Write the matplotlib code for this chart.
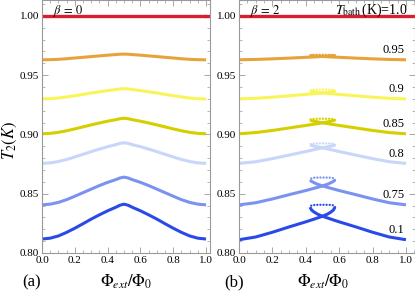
import numpy as np
import matplotlib
matplotlib.use('Agg')
import matplotlib.pyplot as plt
from matplotlib.ticker import MultipleLocator

plt.rcParams['font.family'] = ['Liberation Serif', 'DejaVu Serif']
plt.rcParams['mathtext.fontset'] = 'stix'

# T_bath values (labels) and colours
t_bath = [1.0, 0.95, 0.9, 0.85, 0.8, 0.75, 0.1]
t_bath_labels = ['1.0', '0.95', '0.9', '0.85', '0.8', '0.75', '0.1']
colors = ['#d81e30', '#e8a23a', '#f8f55a', '#d6cf00', '#c8d6fa', '#7b93f0', '#2a4ae8']

# beta = 0 : symmetric curves, half profile for phi in [0, 0.5]
phi_a = [0.0, 0.05, 0.1, 0.15, 0.2, 0.25, 0.3, 0.35, 0.4, 0.45, 0.475, 0.5]
a_100 = [1.0] * 12
a_095 = [0.9630, 0.9631, 0.9634, 0.9639, 0.9645, 0.9651, 0.9657, 0.9663, 0.9669, 0.9674, 0.9677, 0.9678]
a_090 = [0.9300, 0.9302, 0.9308, 0.9317, 0.9327, 0.9338, 0.9350, 0.9360, 0.9370, 0.9379, 0.9384, 0.9387]
a_085 = [0.9006, 0.9009, 0.9018, 0.9031, 0.9047, 0.9064, 0.9081, 0.9097, 0.9112, 0.9125, 0.9133, 0.9137]
a_080 = [0.8756, 0.8760, 0.8772, 0.8789, 0.8810, 0.8833, 0.8855, 0.8877, 0.8897, 0.8914, 0.8925, 0.8930]
a_075 = [0.8406, 0.8412, 0.8427, 0.8450, 0.8479, 0.8509, 0.8539, 0.8569, 0.8596, 0.8619, 0.8633, 0.8640]
a_010 = [0.8118, 0.8125, 0.8144, 0.8174, 0.8209, 0.8247, 0.8286, 0.8322, 0.8356, 0.8386, 0.8403, 0.8412]

# beta = 2 : stable branch from phi=0 up to the fold, then dotted unstable arc
phi_b = [0.0, 0.1, 0.2, 0.3, 0.4, 0.45, 0.5, 0.53, 0.55, 0.565, 0.575]
b_100 = [1.0] * 11
b_095 = [0.9630, 0.9633, 0.9638, 0.9644, 0.9651, 0.9654, 0.9658, 0.9661, 0.9663, 0.9665, 0.9667]
b_090 = [0.9300, 0.9305, 0.9315, 0.9326, 0.9338, 0.9344, 0.9350, 0.9355, 0.9359, 0.9363, 0.9367]
b_085 = [0.9006, 0.9016, 0.9034, 0.9055, 0.9076, 0.9087, 0.9098, 0.9106, 0.9112, 0.9117, 0.9122]
b_080 = [0.8756, 0.8770, 0.8796, 0.8826, 0.8856, 0.8872, 0.8888, 0.8896, 0.8902, 0.8907, 0.8912]
b_075 = [0.8406, 0.8424, 0.8456, 0.8492, 0.8527, 0.8546, 0.8566, 0.8580, 0.8593, 0.8604, 0.8616]
b_010 = [0.8112, 0.8135, 0.8175, 0.8220, 0.8263, 0.8286, 0.8310, 0.8328, 0.8345, 0.8362, 0.8387]

phi_d = [0.575, 0.57, 0.56, 0.54, 0.5, 0.46, 0.44, 0.43, 0.425]
d_095 = [0.9667, 0.9670, 0.9672, 0.9672, 0.9673, 0.9672, 0.9672, 0.9670, 0.9667]
d_090 = [0.9367, 0.9373, 0.9377, 0.9378, 0.9379, 0.9378, 0.9377, 0.9373, 0.9367]
d_085 = [0.9122, 0.9128, 0.9131, 0.9132, 0.9133, 0.9132, 0.9131, 0.9128, 0.9122]
d_080 = [0.8912, 0.8919, 0.8923, 0.8924, 0.8925, 0.8924, 0.8923, 0.8919, 0.8912]
d_075 = [0.8616, 0.8627, 0.8634, 0.8636, 0.8637, 0.8636, 0.8634, 0.8627, 0.8616]
d_010 = [0.8387, 0.8398, 0.8404, 0.8406, 0.8407, 0.8406, 0.8404, 0.8398, 0.8387]

curves_a = [a_100, a_095, a_090, a_085, a_080, a_075, a_010]
curves_b = [b_100, b_095, b_090, b_085, b_080, b_075, b_010]
curves_d = [None, d_095, d_090, d_085, d_080, d_075, d_010]

fig = plt.figure(figsize=(4.15, 2.91), dpi=100)
ax1 = fig.add_axes([42 / 415, 1 - 253 / 291, 168 / 415, 253 / 291])
ax2 = fig.add_axes([239 / 415, 1 - 253 / 291, 176 / 415, 253 / 291])

y_top = 1.0 + 16 / 59.5 * 0.05

for ax, xmax in [(ax1, 1.024), (ax2, 1.054)]:
    ax.set_xlim(0, xmax)
    ax.set_ylim(0.80, y_top)
    ax.xaxis.set_major_locator(MultipleLocator(0.2))
    ax.xaxis.set_minor_locator(MultipleLocator(0.05))
    ax.yaxis.set_major_locator(MultipleLocator(0.05))
    ax.yaxis.set_minor_locator(MultipleLocator(0.01))
    ax.set_xticks([0.0, 0.2, 0.4, 0.6, 0.8, 1.0])
    ax.set_xticklabels(['0.0', '0.2', '0.4', '0.6', '0.8', '1.0'])
    ax.set_yticks([0.80, 0.85, 0.90, 0.95, 1.00])
    ax.set_yticklabels(['0.80', '0.85', '0.90', '0.95', '1.00'])
    ax.tick_params(which='both', direction='in', top=True, right=True,
                   color='#999999', labelsize=8, pad=2)
    ax.tick_params(which='major', length=4, width=0.6)
    ax.tick_params(which='minor', length=2, width=0.5)
    for sp in ax.spines.values():
        sp.set_color('#999999')
        sp.set_linewidth(0.8)

# panel (a)
for i in range(len(t_bath)):
    half = np.array(curves_a[i])
    x = np.concatenate([phi_a, 1 - np.array(phi_a[-2::-1])])
    y = np.concatenate([half, half[-2::-1]])
    lw = 2.4 if i == 0 else 2.2
    ax1.plot(x, y, color=colors[i], lw=lw, solid_capstyle='butt')
ax1.plot([1.0, 1.024], [1.0, 1.0], color=colors[0], lw=2.4)

# panel (b)
for i in range(len(t_bath)):
    yb = np.array(curves_b[i])
    xb = np.array(phi_b)
    lw = 2.4 if i == 0 else 2.2
    if i == 0:
        ax2.plot([0, 1.054], [1.0, 1.0], color=colors[i], lw=lw)
        continue
    ax2.plot(xb, yb, color=colors[i], lw=lw, solid_capstyle='butt')
    ax2.plot(1 - xb, yb, color=colors[i], lw=lw, solid_capstyle='butt')
    ax2.plot(phi_d, curves_d[i], color=colors[i], lw=1.7,
             linestyle=(0, (0.01, 1.3)), dash_capstyle='round')

# annotations
ax1.text(0.067, 1.0018, r'$\beta\,=\,0$', fontsize=9, ha='left', va='baseline')
ax2.text(0.067, 1.0018, r'$\beta\,=\,2$', fontsize=9, ha='left', va='baseline')
ax2.text(1.01, 1.0018, r'$T_{\rm bath}\,$(K)=1.0', fontsize=10, ha='right', va='baseline')
for i in range(1, len(t_bath)):
    ax2.text(0.99, curves_b[i][0] + 0.003, t_bath_labels[i], fontsize=9,
             ha='right', va='bottom')

fig.text(10 / 415, 1 - 140 / 291, r'$T_2(K)$', rotation=90, fontsize=12,
         ha='center', va='center')
fig.text(126 / 415, 1 - 282 / 291, r'$\mathrm{\Phi}_{ext}/\mathrm{\Phi}_{0}$',
         fontsize=12, ha='center', va='center')
fig.text(323 / 415, 1 - 282 / 291, r'$\mathrm{\Phi}_{ext}/\mathrm{\Phi}_{0}$',
         fontsize=12, ha='center', va='center')
fig.text(32 / 415, 1 - 282 / 291, '(a)', fontsize=12, ha='center', va='center')
fig.text(234 / 415, 1 - 282 / 291, '(b)', fontsize=12, ha='center', va='center')

fig.savefig('out.png', dpi=100)
